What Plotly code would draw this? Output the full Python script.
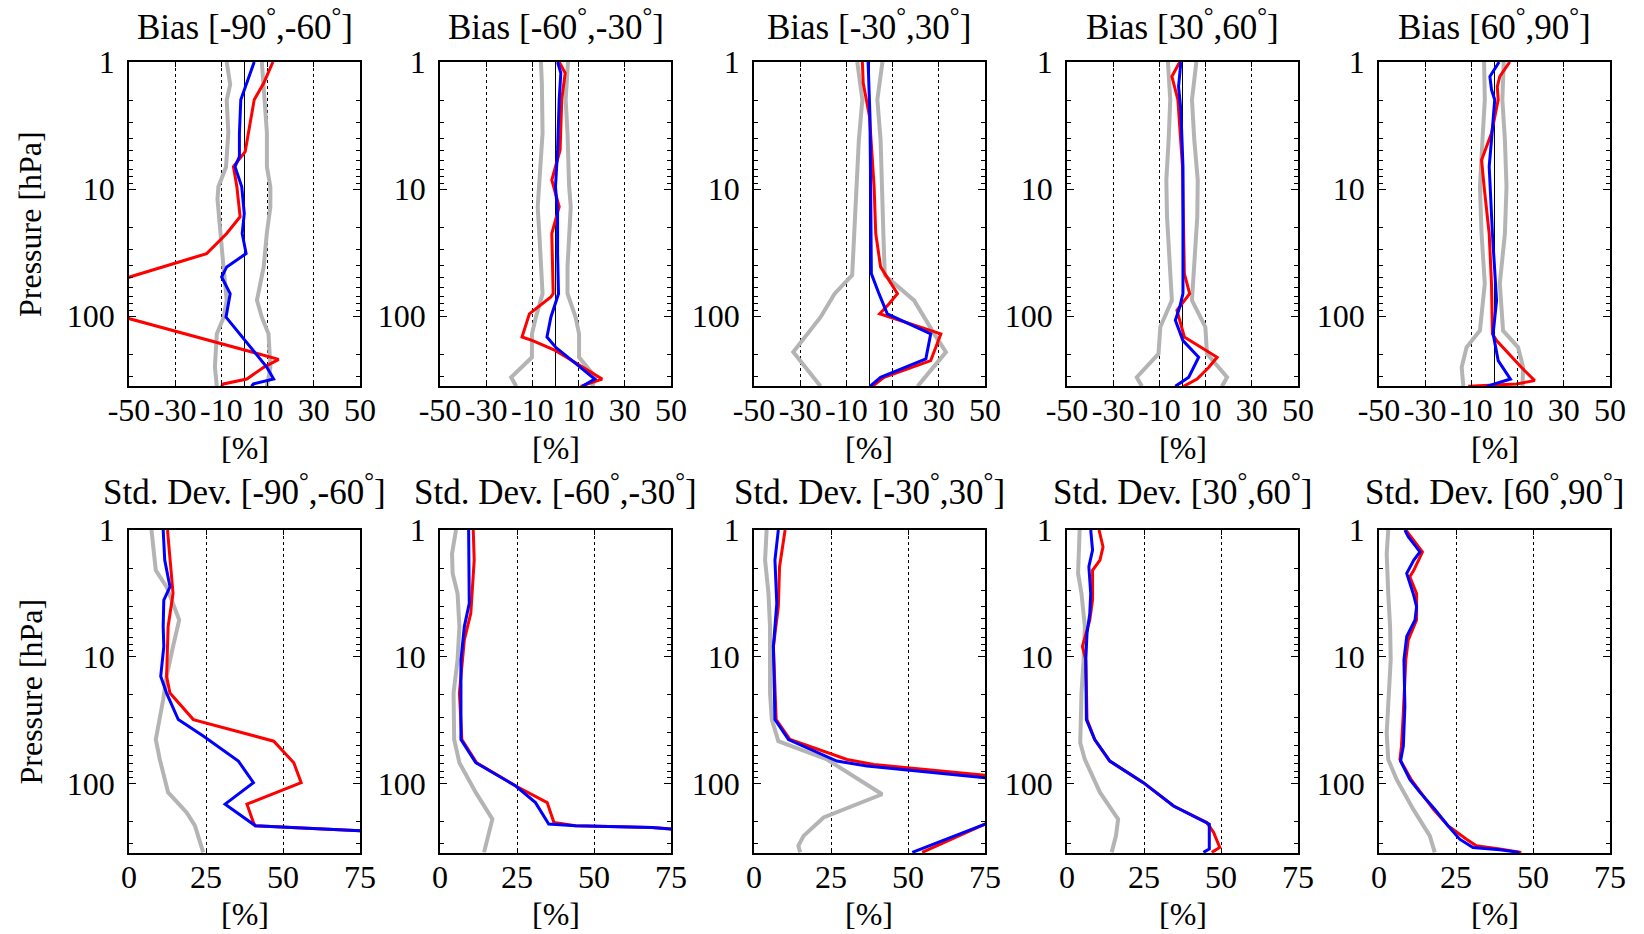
import numpy as np
import plotly.graph_objects as go

W, H = 1644, 934

# ---------------- data ----------------
bands = [("-90", "-60"), ("-60", "-30"), ("-30", "30"), ("30", "60"), ("60", "90")]
bias_ticks = [-50, -30, -10, 10, 30, 50]
std_ticks = [0, 25, 50, 75]
p_ticks = [1, 10, 100]
p_minor = [2, 3, 4, 5, 6, 7, 8, 9, 20, 30, 40, 50, 60, 70, 80, 90, 200, 300]

# Bias [-90,-60]
b1_glo_p = [1, 1.5, 2, 3.6, 6.7, 9.6, 12, 22, 41, 75, 102, 138, 250, 357]
b1_glo_v = [-7.7, -6.2, -7.7, -7, -8, -11.3, -11.7, -10.6, -9.1, -7.7, -9, -12, -12.8, -12]
b1_ghi_p = [1, 1.56, 3.6, 6.7, 9.6, 13.8, 22, 41, 67, 75, 102, 138, 253, 357]
b1_ghi_v = [7.5, 8.3, 9.7, 9.7, 11.2, 11.2, 9.7, 8.3, 6.1, 5.4, 7.5, 10.4, 11.2, 9.7]
b1_red_p = [1, 1.47, 1.98, 3.64, 5.07, 6.66, 9.59, 16.5, 22.4, 32.2, 38.6, 49.2, 70, 105, 219, 253, 313, 342, 357]
b1_red_v = [12.3, 8.3, 4.2, 1.7, 0.3, -4.8, -3.3, -1.9, -7.7, -16.4, -30.9, -49.7, -65, -49.7, 14.8, 8.3, 1, -9.1, -10]
b1_blue_p = [1, 1.47, 1.98, 3.64, 5.55, 6.66, 9.59, 15.6, 22.4, 32.2, 41, 49.2, 66.6, 102, 253, 313, 342, 357]
b1_blue_v = [4.2, 1.0, -1.6, -2.2, -2.2, -4.1, -1.2, -0.1, -1, 0.7, -7.7, -9.9, -6.2, -8, 9.7, 12.6, 3.9, 3]

# Bias [-60,-30]
b2_glo_p = [1, 1.47, 3.64, 6.66, 9.59, 13.8, 22.4, 41, 66.6, 102, 138, 211, 303, 357]
b2_glo_v = [-6.3, -5.9, -5.6, -6.7, -7, -7.7, -7, -6.3, -5.6, -8.5, -10.2, -10.2, -19.2, -17]
b2_ghi_p = [1, 1.98, 3.64, 6.66, 9.59, 13.8, 22.4, 41, 66.6, 102, 138, 211, 303, 357]
b2_ghi_v = [5.4, 4.4, 5.2, 5.6, 5.9, 6.6, 5.9, 5.2, 5.2, 8.7, 10.2, 10.2, 17.3, 15.9]
b2_red_p = [1, 1.22, 1.98, 4.92, 8.49, 13.8, 22.4, 66.6, 70.8, 95.9, 146, 156, 187, 238, 313, 357]
b2_red_v = [1.6, 4.2, 2.7, 2, -1.6, 1.6, -1.6, -1, -2, -11.3, -14.5, -9.9, 0.1, 9.5, 20.2, 10.9]
b2_blue_p = [1, 1.22, 1.98, 4.92, 9.59, 15.6, 32.2, 66.6, 102, 146, 176, 238, 313, 357]
b2_blue_v = [0.9, 2.3, 1.6, 0.9, 0, 0.9, 0.9, 1.3, -2, -3.7, 0.1, 8.7, 17, 11.6]

# Bias [-30,30]
b3_glo_p = [1, 1.98, 4.1, 9.59, 22.4, 47.7, 66.6, 102, 192, 357]
b3_glo_v = [-5.3, -3.1, -4.6, -5.6, -6.7, -7.5, -15.1, -21.2, -33, -21.2]
b3_ghi_p = [1, 1.98, 4.1, 9.59, 22.4, 47.7, 75.2, 138, 192, 357]
b3_ghi_v = [5.6, 3.4, 4.8, 5.6, 6, 6.6, 19.3, 28, 33.1, 20.8]
b3_red_p = [1, 1.47, 2.68, 9.59, 22.4, 41, 66.6, 79.9, 95.9, 138, 176, 224, 303, 357]
b3_red_v = [-3.1, -2.7, 0, 2, 2.7, 4.8, 12.1, 8.5, 4.4, 30.9, 28.7, 26.5, 6.3, 1.2]
b3_blue_p = [1, 2.68, 9.59, 46.3, 66.6, 95.9, 138, 217, 303, 357]
b3_blue_v = [-0.6, 0.2, 0.5, 0.8, 4.1, 7.7, 26.5, 24.4, 4.8, 0.2]

# Bias [30,60]
b4_glo_p = [1, 1.98, 4.1, 8.49, 16.5, 41, 75.2, 122, 198, 303, 357]
b4_glo_v = [-6.3, -5.3, -6, -7, -6.7, -5.3, -4.6, -9.6, -10.4, -19.8, -17.6]
b4_ghi_p = [1, 1.98, 4.1, 8.49, 16.5, 41, 75.2, 122, 198, 303, 357]
b4_ghi_v = [6, 4.1, 5.1, 6.6, 6.4, 5.1, 4.1, 9.9, 10.6, 19.3, 17.1]
b4_red_p = [1, 1.3, 1.98, 6.66, 46.3, 66.6, 90.2, 146, 211, 253, 313, 357]
b4_red_v = [-1.2, -4.6, -2, 0, 0.8, 3.1, -2.4, 0.8, 15, 11.4, 6.3, 0.5]
b4_blue_p = [1, 1.56, 2.38, 6.66, 66.6, 84.9, 108, 156, 211, 303, 357]
b4_blue_v = [-0.7, -1.7, -0.7, 0.2, 0.2, -1.2, -3.1, 0.2, 7, 2.7, -3.1]

# Bias [60,90]
b5_glo_p = [1, 1.98, 4.1, 9.59, 22.4, 55.6, 130, 176, 253, 357]
b5_glo_v = [-4.5, -4.2, -5.2, -6.3, -5.6, -4.2, -6.3, -12.1, -14.2, -13.5]
b5_ghi_p = [1, 1.98, 4.1, 9.59, 22.4, 55.6, 130, 176, 253, 357]
b5_ghi_v = [4, 3.4, 4.5, 5.2, 4.5, 2.3, 3.7, 10.2, 12.4, 12.1]
b5_red_p = [1, 1.3, 1.56, 1.98, 3.64, 5.9, 9.59, 22.4, 55.6, 138, 156, 253, 322, 342, 357]
b5_red_v = [6.6, 2.3, 1.2, 1.6, -1.3, -5.6, -4.5, -2.3, -1.3, -0.9, 0.9, 11.6, 17.4, 9.5, -11.4]
b5_blue_p = [1, 1.3, 1.65, 1.98, 4.1, 6.66, 22.4, 75.2, 138, 224, 313, 342, 357]
b5_blue_v = [2, -2, -1.3, 0.1, -1.3, -2.3, -0.9, 0.9, -0.6, 1.6, 6.9, 0.1, -3.4]

# Std. Dev. [-90,-60]
s1_gray_p = [1, 1.36, 2.08, 2.81, 3.8, 5.13, 8.32, 14.3, 21.8, 31.4, 45.1, 64.8, 118, 170, 216, 351]
s1_gray_v = [7.3, 7.8, 8.7, 12.2, 14.3, 16.3, 14.3, 12.2, 11.1, 9.8, 8.7, 10, 12.7, 18.7, 21.4, 24.1]
s1_red_p = [1, 1.73, 3.17, 5.79, 14.3, 19.4, 31.4, 46.5, 68.8, 98.8, 146, 204, 216, 237, 351]
s1_red_v = [12.5, 13.3, 14.3, 12.7, 12.2, 13.3, 20.9, 47, 53.5, 55.9, 38.3, 40.4, 41, 75, 110]
s1_blue_p = [1, 1.73, 2.81, 3.57, 5.79, 8.32, 14.3, 19.4, 31.4, 42.4, 66.7, 98.8, 146, 216, 237, 351]
s1_blue_v = [11.1, 11.6, 13.3, 11.3, 11.1, 11.3, 10.3, 12.2, 16, 24.1, 35.5, 40.4, 31.2, 41, 75, 110]

# Std. Dev. [-60,-30]
s2_gray_p = [1, 1.54, 2.2, 3.17, 5.79, 10.6, 19.4, 45.1, 68.8, 118, 192, 351]
s2_gray_v = [5.2, 3.9, 4.1, 5.7, 6.3, 5.7, 4.4, 4.6, 6.3, 11.6, 17, 14.3]
s2_red_p = [1, 1.73, 4.55, 7.37, 19.4, 45.1, 68.8, 105, 142, 204, 216, 223, 230, 351]
s2_red_v = [10.8, 11.1, 10, 7.9, 6.3, 7.1, 11.9, 24.6, 34.8, 37, 44, 68.8, 75, 95]
s2_blue_p = [1, 3.8, 5.79, 10.6, 45.1, 68.8, 105, 142, 210, 216, 223, 230, 351]
s2_blue_v = [9.3, 9.5, 7.9, 6.8, 6.8, 11.6, 24.6, 31, 35.3, 44, 68.8, 75, 95]

# Std. Dev. [-30,30]
s3_gray_p = [1, 1.73, 3.17, 5.79, 10.6, 19.4, 31.4, 46.5, 64.8, 122, 186, 260, 311, 351]
s3_gray_v = [4.1, 3.6, 4.7, 5.2, 5.2, 5.2, 5.8, 7.9, 23.7, 41.6, 22.6, 16.1, 14.4, 15]
s3_red_p = [1, 1.44, 1.95, 4.03, 8.32, 31.4, 45.1, 64.8, 71, 86.5, 134, 210, 351]
s3_red_v = [10.1, 9, 8.3, 7.9, 6.3, 7.2, 11.7, 30.2, 38.9, 75, 100, 75, 54.6]
s3_blue_p = [1, 1.73, 3.8, 8.32, 31.4, 45.1, 66.7, 73.1, 90.2, 134, 210, 351]
s3_blue_v = [7.9, 6.8, 7.4, 6.3, 6.8, 11.2, 26.9, 36.7, 75, 100, 75, 51.4]

# Std. Dev. [30,60]
s4_gray_p = [1, 1.54, 2.2, 3.17, 5.79, 10.6, 19.4, 47.9, 64.8, 118, 192, 260, 351]
s4_gray_v = [4.1, 3.9, 3.6, 4.7, 5.8, 5.4, 4.7, 4.3, 5.8, 10.7, 16.6, 15.9, 14.5]
s4_red_p = [1, 1.36, 1.73, 2.08, 3.57, 5.13, 8.32, 10.6, 31.4, 45.1, 66.7, 98.8, 151, 204, 244, 321, 351]
s4_red_v = [10.4, 11.7, 10.7, 8.3, 8.3, 7.4, 5, 6.1, 6.5, 9, 13.9, 24.8, 34.6, 45.4, 47.6, 49.6, 47]
s4_blue_p = [1, 1.44, 1.95, 3.17, 4.55, 6.53, 10.6, 31.4, 45.1, 66.7, 98.8, 151, 210, 330, 351]
s4_blue_v = [7.7, 8.3, 7.1, 7.7, 7.4, 6.5, 6.1, 6.3, 9, 13.9, 24.8, 34.6, 46.2, 46.2, 44.3]

# Std. Dev. [60,90]
s5_gray_p = [1, 1.54, 3.17, 5.79, 10.6, 19.4, 40, 64.8, 93, 160, 260, 351]
s5_gray_v = [3, 2.5, 3, 3.6, 3.8, 3.3, 2.5, 3, 5.7, 11.1, 16.5, 18.1]
s5_red_p = [1, 1.49, 2.08, 2.34, 3.17, 5.13, 7.37, 10.6, 27.8, 50.9, 64.8, 93, 160, 216, 276, 311, 330, 351]
s5_red_v = [8.7, 14.1, 11.3, 10, 12.2, 12.2, 9.5, 8.7, 7.9, 7.3, 6.8, 10.4, 17.6, 22.4, 28.4, 31.6, 39.2, 46.2]
s5_blue_p = [1, 1.13, 1.49, 1.73, 2.2, 3.17, 4.03, 5.13, 6.94, 10.6, 24.7, 50.9, 66.7, 93, 118, 160, 216, 276, 321, 334, 351]
s5_blue_v = [8.4, 9.5, 13.3, 11.3, 9, 11.1, 12.2, 11.7, 9, 8.1, 8.4, 7.9, 7, 10, 13.3, 18.1, 22.4, 26.2, 30.5, 39.2, 45.6]

# ---------------- styling ----------------
GRAY, RED, BLUE = "#b4b4b4", "#ff0000", "#0000ff"
FONT = "Liberation Serif, Times New Roman, serif"

bias_series = [
    [(b1_glo_p, b1_glo_v, GRAY), (b1_ghi_p, b1_ghi_v, GRAY), (b1_red_p, b1_red_v, RED), (b1_blue_p, b1_blue_v, BLUE)],
    [(b2_glo_p, b2_glo_v, GRAY), (b2_ghi_p, b2_ghi_v, GRAY), (b2_red_p, b2_red_v, RED), (b2_blue_p, b2_blue_v, BLUE)],
    [(b3_glo_p, b3_glo_v, GRAY), (b3_ghi_p, b3_ghi_v, GRAY), (b3_red_p, b3_red_v, RED), (b3_blue_p, b3_blue_v, BLUE)],
    [(b4_glo_p, b4_glo_v, GRAY), (b4_ghi_p, b4_ghi_v, GRAY), (b4_red_p, b4_red_v, RED), (b4_blue_p, b4_blue_v, BLUE)],
    [(b5_glo_p, b5_glo_v, GRAY), (b5_ghi_p, b5_ghi_v, GRAY), (b5_red_p, b5_red_v, RED), (b5_blue_p, b5_blue_v, BLUE)],
]
std_series = [
    [(s1_gray_p, s1_gray_v, GRAY), (s1_red_p, s1_red_v, RED), (s1_blue_p, s1_blue_v, BLUE)],
    [(s2_gray_p, s2_gray_v, GRAY), (s2_red_p, s2_red_v, RED), (s2_blue_p, s2_blue_v, BLUE)],
    [(s3_gray_p, s3_gray_v, GRAY), (s3_red_p, s3_red_v, RED), (s3_blue_p, s3_blue_v, BLUE)],
    [(s4_gray_p, s4_gray_v, GRAY), (s4_red_p, s4_red_v, RED), (s4_blue_p, s4_blue_v, BLUE)],
    [(s5_gray_p, s5_gray_v, GRAY), (s5_red_p, s5_red_v, RED), (s5_blue_p, s5_blue_v, BLUE)],
]

lefts = [129, 440, 754, 1067, 1379]
pw = 231
rows = [(62, 386), (530, 853)]
P_BOTTOM = 355
TICK_SIZE = 32

fig = go.Figure()
layout = dict(
    width=W, height=H, margin=dict(l=0, r=0, t=0, b=0, autoexpand=False),
    paper_bgcolor="white", plot_bgcolor="white", showlegend=False,
    font=dict(family=FONT, color="black"), hovermode=False,
)
annotations = []

for r in range(2):
    top, bot = rows[r]
    for c in range(5):
        k = r * 5 + c + 1
        xa = "x" if k == 1 else f"x{k}"
        ya = "y" if k == 1 else f"y{k}"
        series = bias_series[c] if r == 0 else std_series[c]
        for (p, v, col) in series:
            fig.add_trace(go.Scatter(
                x=v, y=p, mode="lines", xaxis=xa, yaxis=ya,
                line=dict(color=col, width=4 if col == GRAY else 3),
                showlegend=False, hoverinfo="skip"))
        left = lefts[c]
        xdom = [left / W, (left + pw) / W]
        ydom = [1 - bot / H, 1 - top / H]
        ticks_x = bias_ticks if r == 0 else std_ticks
        layout[f"xaxis{k}"] = dict(
            domain=xdom, anchor=ya, automargin=False,
            range=[-50, 50] if r == 0 else [0, 75],
            tickmode="array", tickvals=ticks_x, ticktext=[str(t) for t in ticks_x],
            ticks="inside", ticklen=5, tickcolor="black", tickwidth=1,
            showline=True, linecolor="black", linewidth=1.5, mirror="ticks",
            showgrid=True, gridcolor="black", griddash="dot", gridwidth=1,
            zeroline=(r == 0), zerolinecolor="black", zerolinewidth=1.2,
            tickfont=dict(family=FONT, size=TICK_SIZE, color="black"),
            tickangle=0, ticklabelstandoff=-5, fixedrange=True,
        )
        layout[f"yaxis{k}"] = dict(
            domain=ydom, anchor=xa, type="log", automargin=False,
            range=[np.log10(P_BOTTOM), 0],
            tickmode="array", tickvals=p_ticks, ticktext=[str(t) for t in p_ticks],
            ticks="inside", ticklen=7, tickcolor="black", tickwidth=1,
            minor=dict(tickmode="array", tickvals=p_minor, ticks="inside", ticklen=4,
                       tickcolor="black", tickwidth=1, showgrid=False),
            showline=True, linecolor="black", linewidth=1.5, mirror="ticks",
            showgrid=False, zeroline=False,
            tickfont=dict(family=FONT, size=TICK_SIZE, color="black"),
            ticklabelstandoff=6, fixedrange=True,
        )
        cx = (left + pw / 2) / W
        a, b = bands[c]
        name = "Bias" if r == 0 else "Std. Dev."
        annotations.append(dict(
            text=f"{name} [{a}<sup>°</sup>,{b}<sup>°</sup>]",
            x=cx, y=1 - (25 if r == 0 else 490) / H, xref="paper", yref="paper",
            xanchor="center", yanchor="middle", showarrow=False,
            font=dict(family=FONT, size=35, color="black")))
        annotations.append(dict(
            text="[%]", x=cx, y=1 - (448 if r == 0 else 914) / H,
            xref="paper", yref="paper", xanchor="center", yanchor="middle",
            showarrow=False, font=dict(family=FONT, size=32, color="black")))
    annotations.append(dict(
        text="Pressure [hPa]", x=30 / W, y=1 - ((top + bot) / 2) / H,
        xref="paper", yref="paper", xanchor="center", yanchor="middle",
        textangle=-90, showarrow=False,
        font=dict(family=FONT, size=32, color="black")))

layout["annotations"] = annotations
fig.update_layout(**layout)
fig.write_html("out.html")
